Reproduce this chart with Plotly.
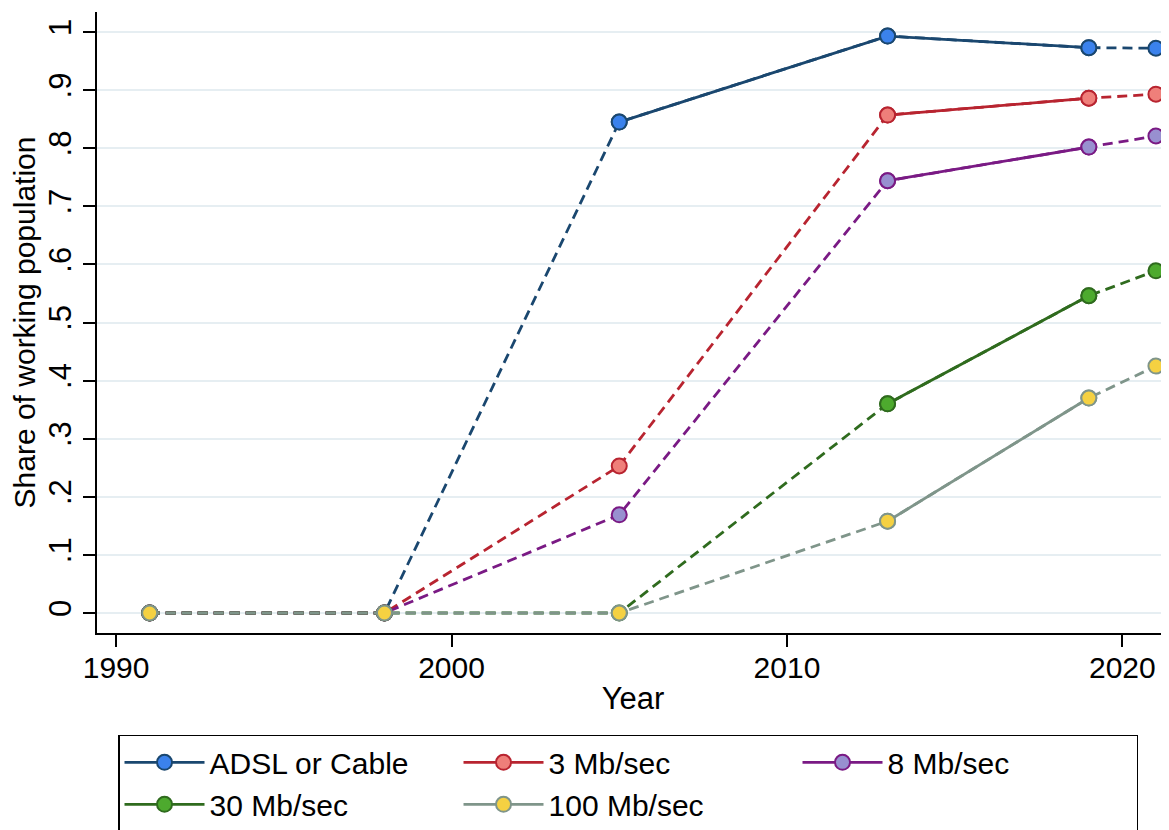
import plotly.graph_objects as go

years = [1991, 1998, 2005, 2013, 2019, 2021]
adsl = [0.0, 0.0, 0.845, 0.993, 0.973, 0.972]
mb3 = [0.0, 0.0, 0.253, 0.857, 0.886, 0.893]
mb8 = [0.0, 0.0, 0.169, 0.744, 0.802, 0.821]
mb30 = [0.0, 0.0, 0.0, 0.360, 0.546, 0.589]
mb100 = [0.0, 0.0, 0.0, 0.158, 0.370, 0.425]

names = ["ADSL or Cable", "3 Mb/sec", "8 Mb/sec", "30 Mb/sec", "100 Mb/sec"]
values = [adsl, mb3, mb8, mb30, mb100]
# years bounding the solid-line part of each series
solid_span = [(2005, 2019), (2013, 2019), (2013, 2019), (2013, 2019), (2013, 2019)]

line_colors = ["#1a476f", "#b82430", "#7a1a84", "#2f6b1e", "#7f958a"]
fill_colors = ["#3b82ec", "#ef7f7a", "#9890d0", "#4daa2e", "#f5d142"]

ytick_vals = [0, 0.1, 0.2, 0.3, 0.4, 0.5, 0.6, 0.7, 0.8, 0.9, 1.0]
ytick_text = ["0", ".1", ".2", ".3", ".4", ".5", ".6", ".7", ".8", ".9", "1"]
xtick_vals = [1990, 2000, 2010, 2020]

FONT = "Liberation Sans, Arial, sans-serif"

fig = go.Figure()
for name, vals, span, lc, fc in zip(names, values, solid_span, line_colors, fill_colors):
    fig.add_trace(go.Scatter(
        x=years, y=vals, mode="lines",
        line=dict(color=lc, width=2.8, dash="10px,6px"),
        showlegend=False, hoverinfo="skip"))
    sx = [x for x in years if span[0] <= x <= span[1]]
    sy = [v for x, v in zip(years, vals) if span[0] <= x <= span[1]]
    fig.add_trace(go.Scatter(
        x=sx, y=sy, mode="lines+markers", name=name,
        line=dict(color=lc, width=2.8),
        marker=dict(size=15, color=fc, line=dict(color=lc, width=2))))
    fig.add_trace(go.Scatter(
        x=years, y=vals, mode="markers",
        marker=dict(size=15, color=fc, line=dict(color=lc, width=2)),
        showlegend=False))

# page has an 8px body margin: figure sized so that page = 1169x830 exactly
fig.update_layout(
    width=1161, height=822,
    margin=dict(l=89, r=0, t=4, b=197, autoexpand=False),
    paper_bgcolor="white", plot_bgcolor="white",
    font=dict(family=FONT, size=30, color="black"),
    xaxis=dict(
        range=[1989.43, 2021.39], tickvals=xtick_vals, automargin=False,
        showgrid=False, zeroline=False,
        showline=True, linecolor="black", linewidth=2,
        ticks="outside", ticklen=12, tickwidth=1.5, tickcolor="black",
        tickfont=dict(size=30), ticklabelstandoff=-5,
        title=dict(text="Year", font=dict(size=31), standoff=4)),
    yaxis=dict(
        range=[-0.0344, 1.0344], tickvals=ytick_vals, ticktext=ytick_text,
        tickangle=-90, automargin=False,
        showgrid=True, gridcolor="#e6eef2", gridwidth=2, zeroline=False,
        showline=True, linecolor="black", linewidth=2,
        ticks="outside", ticklen=12, tickwidth=1.5, tickcolor="black",
        tickfont=dict(size=31),
        title=dict(text="Share of working population", font=dict(size=30), standoff=4)),
    legend=dict(
        orientation="h", x=0.0196, xanchor="left", y=-0.164, yanchor="top",
        bordercolor="black", borderwidth=1.5,
        font=dict(size=30),
        entrywidth=244, entrywidthmode="pixels",
        itemwidth=80, tracegroupgap=0),
)

fig.write_html("out.html")
